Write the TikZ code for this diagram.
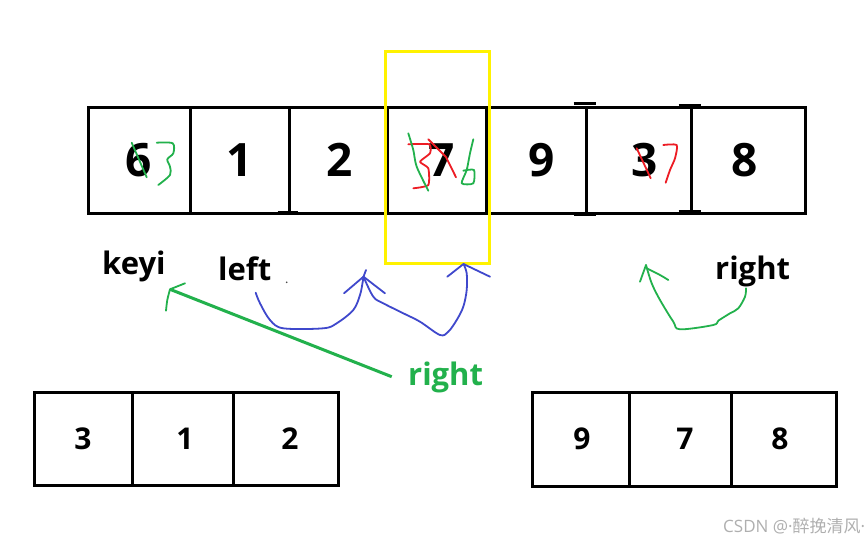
\documentclass[tikz,border=0pt]{standalone}
\usepackage{fontspec}
\setmainfont{Open Sans}
\newfontfamily\cjk{Noto Sans CJK SC}
\definecolor{pgreen}{RGB}{34,177,76}
\definecolor{pred}{RGB}{237,28,36}
\definecolor{pblue}{RGB}{63,72,204}
\definecolor{pyellow}{RGB}{255,242,0}
\definecolor{wmgray}{RGB}{175,175,175}
\newcommand{\shr}[2]{\hspace*{#1pt}#2}
\newcommand{\shl}[2]{#2\hspace*{#1pt}}
\tikzset{
  cell/.style={draw, line width=3pt, inner sep=0pt, minimum height=106pt, font=\fontsize{46}{46}\bfseries\selectfont},
  scell/.style={draw, line width=3pt, inner sep=0pt, font=\fontsize{30}{30}\bfseries\selectfont},
  capbar/.style={line width=3.5pt},
  lbl/.style={anchor=base west, inner sep=0pt, font=\fontsize{31}{31}\bfseries\selectfont},
  hand/.style={line width=1.8pt, line cap=round, line join=round},
  bluestroke/.style={hand, pblue},
  greenstroke/.style={hand, pgreen},
  redstroke/.style={hand, pred},
}
\begin{document}
\begin{tikzpicture}[x=1pt,y=-1pt]
\fill[white] (0,0) rectangle (865,544);
\useasboundingbox (0,0) rectangle (865,544);

% top row
\node[cell, minimum width=102pt] (c1) at (139,160) {6};
\node[cell, minimum width=99pt]  (c2) at (239.5,160) {1};
\node[cell, minimum width=98pt]  (c3) at (338,160) {\shr{4}{2}};
\node[cell, minimum width=99pt]  (c4) at (436.5,160) {\shr{11}{7}};
\node[cell, minimum width=100pt] (c5) at (536,160) {\shr{12}{9}};
\node[cell, minimum width=105pt] (c6) at (638.5,160) {\shr{13}{3}};
\node[cell, minimum width=114pt] (c7) at (748,160) {\shl{6}{8}};

% cap bars on some dividers
\draw[capbar] ([xshift=-10pt,yshift=-2pt]c3.north west) -- ([xshift=10pt,yshift=-2pt]c3.north west);
\draw[capbar] ([xshift=-10pt,yshift=2pt]c3.south west) -- ([xshift=10pt,yshift=2pt]c3.south west);
\draw[capbar] ([xshift=-11pt,yshift=2pt]c6.north west) -- ([xshift=11pt,yshift=2pt]c6.north west);
\draw[capbar] ([xshift=-11pt]c6.south west) -- ([xshift=11pt]c6.south west);
\draw[capbar] ([xshift=-11pt]c7.north west) -- ([xshift=11pt]c7.north west);
\draw[capbar] ([xshift=-11pt,yshift=3pt]c7.south west) -- ([xshift=11pt,yshift=3pt]c7.south west);

% handwritten corrections
\draw[greenstroke] (131.7,142.7) -- (146.7,177.3);
\draw[greenstroke] plot[smooth, tension=0.5] coordinates {(156.7,142.7) (172.7,143.3) (173.3,153.3) (167.3,159.3) (170,166.7) (170,175) (158.3,185)};
\draw[redstroke] plot[smooth, tension=0.35] coordinates {(408.3,144.3) (429.3,144.3) (430,153.3) (420,161.7) (428.3,168.3) (428.3,185) (413.3,188.3)};
\draw[redstroke] (428.3,139.3) -- (446,157) -- (456,177.3);
\draw[greenstroke] plot[smooth, tension=0.5] coordinates {(408.3,133.3) (413.3,150) (416.7,166.7) (428.3,190.7)};
\draw[greenstroke] plot[smooth, tension=0.4] coordinates {(473.3,139.3) (470,153.3) (466.7,170) (461.7,183.3) (473.3,183.3) (474,170) (463.3,170.7)};
\draw[redstroke] (636.7,148.3) -- (650.7,178.3);
\draw[redstroke] plot[smooth, tension=0.4] coordinates {(663.3,145) (676.7,145) (675,158.3) (670,170) (665.7,182.7)};

% yellow highlight
\node[draw=pyellow, line width=3pt, minimum width=104pt, minimum height=212pt, inner sep=0pt] (hl) at (437,157) {};

% labels
\node[lbl] (keyi) at (102,274) {keyi};
\node[lbl] (left) at (218,280) {left};
\node[lbl] (rightb) at (715,279) {right};
\node[lbl, text=pgreen] (rightg) at (408,385) {right};
\fill[black!70] (286.7,282.3) circle (0.9pt);

% blue arrows
\coordinate (ba) at (363.5,276.7);
\coordinate (bb) at (463.5,264);
\draw[bluestroke] plot[smooth, tension=0.55] coordinates {(255.7,292.7) (260,303.3) (270,320) (283.3,328.3) (323.3,328.3) (336.7,323.3) (353.3,310) (360,295) (362.7,282) (ba)};
\draw[bluestroke] (344,293.3) -- (ba) -- (385,293.3);
\draw[bluestroke] (ba) -- (366,270);
\draw[bluestroke] plot[smooth, tension=0.55] coordinates {(ba) (373.3,296.7) (383.3,303.3) (403.3,313.3) (420,321.7) (440,335) (448.3,331.7) (456.7,320) (463.3,306.7) (466.7,290) (466.7,273.3) (bb)};
\draw[bluestroke] (447.3,276.7) -- (bb) -- (490,276.7);

% green arrow from right to keyi
\coordinate (ga) at (170,289.3);
\draw[pgreen, line width=3pt] (391.7,376.7) -- (ga);
\draw[greenstroke] (185,283.3) -- (ga);
\draw[greenstroke] plot[smooth, tension=0.5] coordinates {(ga) (167.3,300) (166,310.7)};

% green curved arrow from black right
\coordinate (gb) at (646,265);
\draw[greenstroke] plot[smooth, tension=0.55] coordinates {(746,288.3) (745,296.7) (738.3,308.3) (730,313.3) (718.3,320.7) (713.3,325) (680,329.3) (673.3,321.7) (660,300) (651.7,283.3) (gb)};
\draw[greenstroke] (640,281.7) -- (gb);
\draw[greenstroke] plot[smooth, tension=0.5] coordinates {(646.7,268.3) (660,275) (668.3,280)};

% bottom rows
\node[scell, minimum width=98pt, minimum height=93pt]  (b1) at (83,438.5) {3};
\node[scell, minimum width=101pt, minimum height=93pt] (b2) at (182.5,438.5) {\shr{5}{1}};
\node[scell, minimum width=105pt, minimum height=93pt] (b3) at (285.5,438.5) {\shr{9}{2}};
\node[scell, minimum width=97pt, minimum height=94pt]  (b4) at (580.5,439) {\shr{3}{9}};
\node[scell, minimum width=102pt, minimum height=94pt] (b5) at (680,439) {\shr{10}{7}};
\node[scell, minimum width=105pt, minimum height=94pt] (b6) at (783.5,439) {\shl{7}{8}};

% watermark
\node[anchor=west, inner sep=0pt, text=wmgray, font=\fontsize{17}{17}\selectfont] (wm) at (723,526) {CSDN @·{\cjk 醉挽清风}·};
\end{tikzpicture}
\end{document}
